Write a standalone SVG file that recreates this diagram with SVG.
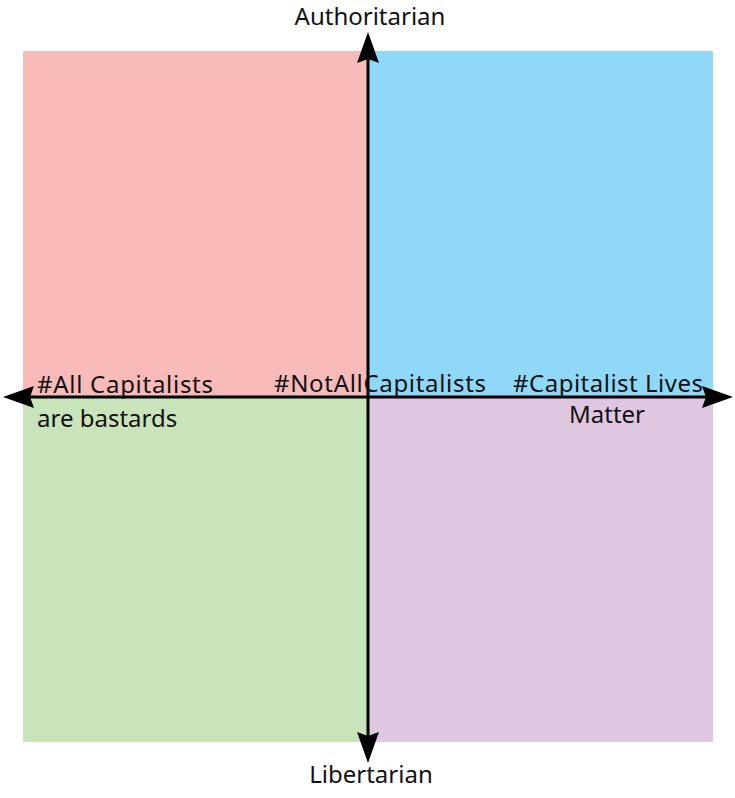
<svg xmlns="http://www.w3.org/2000/svg" width="735" height="798" viewBox="0 0 735 798">
<style>
text{font-family:"Comic Sans MS","Noto Sans","DejaVu Sans",sans-serif;font-size:24px;fill:#111}
.ax{stroke:#000;stroke-width:3;fill:none}
.ah{fill:#000}
</style>
<rect width="735" height="798" fill="#fff"/>
<g id="quadrant-auth-left"><rect x="23" y="51" width="345" height="346" fill="#f8bbb9"/></g>
<g id="quadrant-auth-right"><rect x="368" y="51" width="345" height="346" fill="#8fd8f7"/></g>
<g id="quadrant-lib-left"><rect x="23" y="397" width="345" height="345" fill="#c9e3bb"/></g>
<g id="quadrant-lib-right"><rect x="368" y="397" width="345" height="345" fill="#dfc6e1"/></g>
<g id="connectors">
<line class="ax" x1="368" y1="55" x2="368" y2="740"/>
<line class="ax" x1="28" y1="397" x2="710" y2="397"/>
<polygon class="ah" points="368,32 379,63 368,59 357,63"/>
<polygon class="ah" points="368,763 379,732 368,736 357,732"/>
<polygon class="ah" points="3,397 34,386 30,397 34,408"/>
<polygon class="ah" points="733,397 702,386 706,397 702,408"/>
</g>
<g id="label-auth"><text x="370" y="25" text-anchor="middle">Authoritarian</text></g>
<g id="label-lib"><text x="371" y="783" text-anchor="middle">Libertarian</text></g>
<g id="label-left"><text x="37" y="393" textLength="176">#All Capitalists</text><text x="37" y="427">are bastards</text></g>
<g id="label-center"><text x="274" y="392" textLength="212">#NotAllCapitalists</text></g>
<g id="label-right"><text x="513" y="392" textLength="190">#Capitalist Lives</text><text x="607" y="423" text-anchor="middle">Matter</text></g>
</svg>
